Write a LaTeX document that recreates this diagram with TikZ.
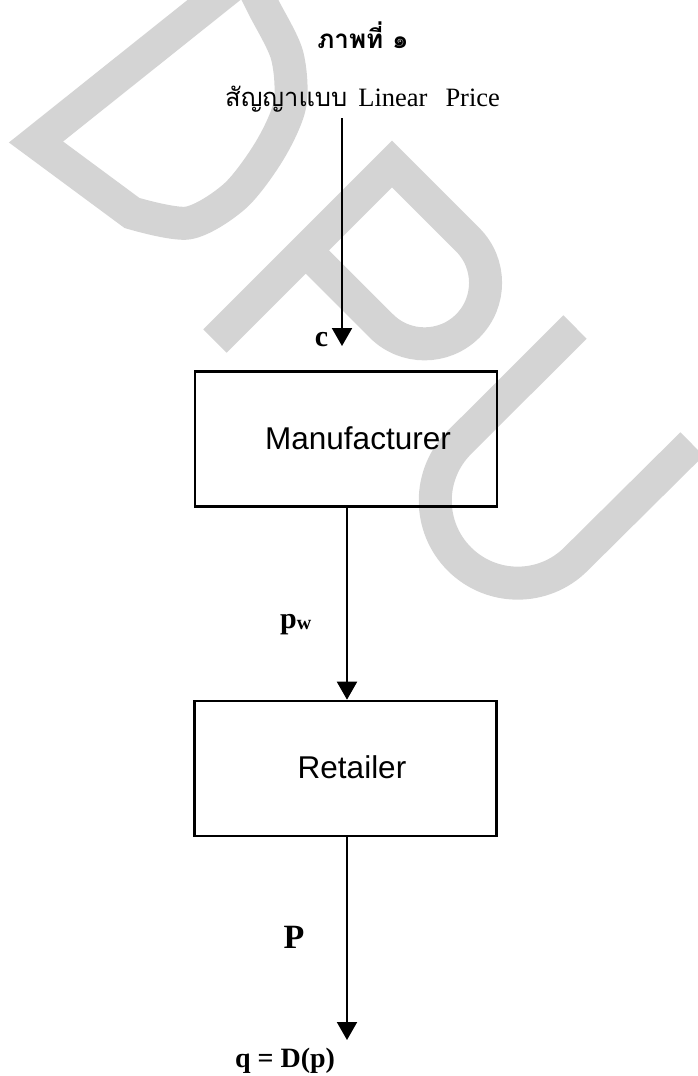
\documentclass[tikz,border=0pt]{standalone}
\usepackage{fontspec}
\setmainfont{Liberation Serif}
\newfontfamily\thaifont[Script=Thai]{Loma}
\newfontfamily\arialfont{Liberation Sans}
\usetikzlibrary{arrows.meta}
\definecolor{wmgray}{RGB}{212,212,212}
\begin{document}
\begin{tikzpicture}[x=1pt,y=-1pt,
  wm/.style={draw=wmgray, line width=33pt, line join=miter, line cap=butt},
  box/.style={draw, line width=2.6pt, minimum width=302pt, minimum height=135pt, inner sep=0pt},
  boxtext/.style={font=\arialfont\fontsize{31.5}{36}\selectfont, inner sep=0pt},
  lab/.style={font=\bfseries, inner sep=0pt},
  conn/.style={draw, line width=2pt, -{Triangle[length=18pt,width=20pt]}},
]
\useasboundingbox (0,0) rectangle (698,1076);
\clip (0,0) rectangle (698,1076);
% watermark "DPU"
\draw[wm] (239,-20) -- (36,142) -- (132,213) -- plot[smooth] coordinates {(132,213) (188,223) (235,196) (270,150) (290,104) (287,55) (264,8) (250,-20)};
\draw[wm] (215,341) -- (392,164) -- (467.7,239.7) .. controls (491.5,263.5) and (491.5,302.2) .. (467.7,326) .. controls (443.9,349.8) and (405.2,349.8) .. (381.4,326) -- (305.7,250.3);
\draw[wm] (575,327) -- (459.4,442.4) .. controls (427.2,474.6) and (427.2,526.8) .. (459.4,559) .. controls (491.6,591.2) and (543.8,591.2) .. (576,559) -- (692,444);
% titles
\node[anchor=base, inner sep=0pt, font=\thaifont\bfseries\fontsize{26}{30}\selectfont] (title) at (363,48) {ภาพที่ ๑};
\node[anchor=base west, inner sep=0pt, font=\fontsize{26.5}{30}\selectfont] (sub) at (225,106) {{\thaifont\fontsize{25.5}{30}\selectfont สัญญาแบบ}\hspace{11pt}Linear\hspace{18pt}Price};
% boxes
\node[box] (man) at (346,439) {};
\node[boxtext, anchor=base] (mantext) at (358,449) {Manufacturer};
\node[box] (ret) at (345.5,768.5) {};
\node[boxtext, anchor=base] (rettext) at (352,778) {Retailer};
% connectors
\coordinate (src) at (342,118);
\coordinate (cend) at (342,346);
\coordinate (qend) at (347,1040);
\draw[conn] (src) -- (cend);
\draw[conn] ([xshift=1pt]man.south) -- ([xshift=1pt]man.south |- ret.north);
\draw[conn] ([xshift=1.5pt]ret.south) -- (qend);
% labels
\node[lab, anchor=base, font=\bfseries\fontsize{30}{34}\selectfont] (c) at (321.5,346) {c};
\node[lab, anchor=base west, font=\bfseries\fontsize{30}{34}\selectfont] (pw) at (280,628) {p\raisebox{-1.5pt}{\fontsize{20}{22}\selectfont w}};
\node[lab, anchor=base, font=\bfseries\fontsize{34}{38}\selectfont] (P) at (294,948) {P};
\node[lab, anchor=base, font=\bfseries\fontsize{28}{32}\selectfont] (q) at (285,1067) {q = D(p)};
\end{tikzpicture}
\end{document}
